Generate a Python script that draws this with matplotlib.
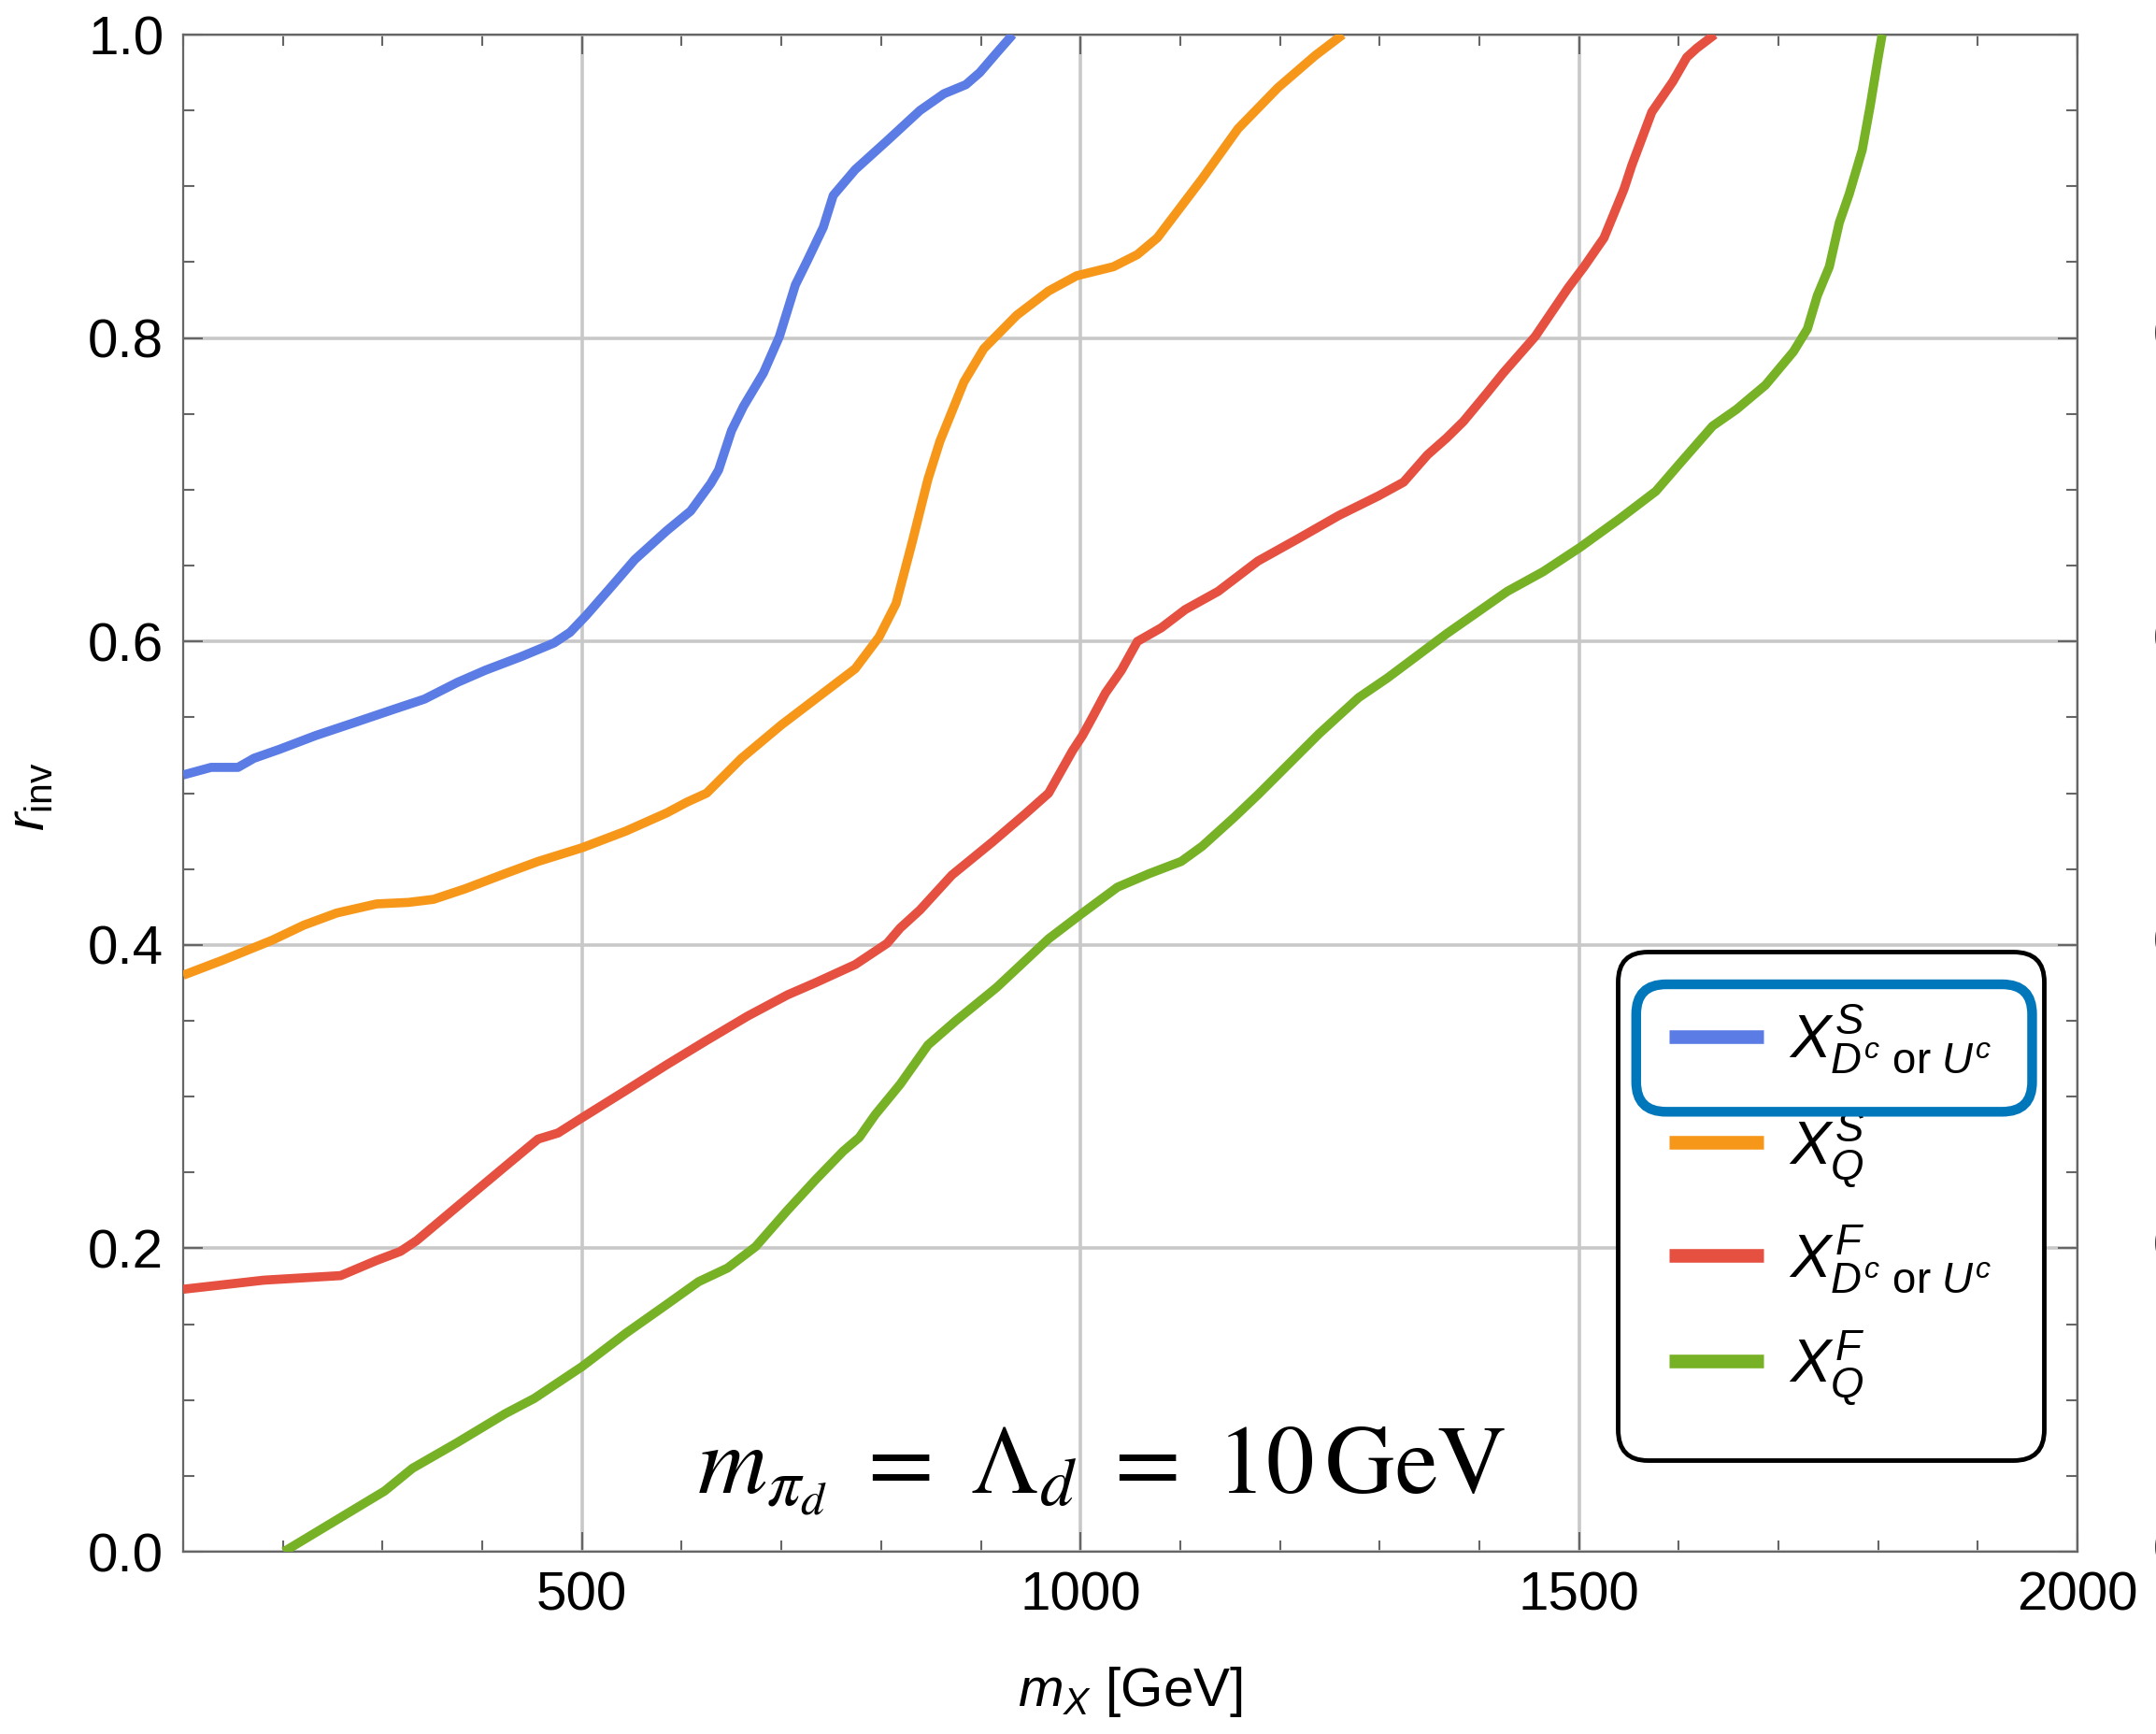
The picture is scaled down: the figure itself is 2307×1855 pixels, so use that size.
import matplotlib
matplotlib.use("Agg")
import matplotlib.pyplot as plt
from matplotlib.patches import FancyBboxPatch
from matplotlib.ticker import MultipleLocator, FixedLocator
from matplotlib import transforms

plt.rcParams['font.family'] = ['Liberation Sans', 'DejaVu Sans']
plt.rcParams['mathtext.fontset'] = 'custom'
plt.rcParams['mathtext.rm'] = 'Liberation Sans'
plt.rcParams['mathtext.it'] = 'Liberation Sans:italic'
plt.rcParams['mathtext.bf'] = 'Liberation Sans:bold'

# curves: m_X [GeV] vs r_inv
blue_x = [100, 128, 155, 171, 197, 233, 274, 310, 342, 375, 403, 439, 472, 488, 504, 528, 553,
          585, 609, 629, 637, 650, 662, 682, 698, 714, 726, 742, 752, 774, 806, 839, 863, 885,
          899, 916, 932]
blue_y = [0.512, 0.517, 0.517, 0.523, 0.529, 0.538, 0.547, 0.555, 0.562, 0.573, 0.581, 0.590,
          0.599, 0.606, 0.617, 0.635, 0.654, 0.673, 0.686, 0.704, 0.713, 0.739, 0.755, 0.777,
          0.801, 0.835, 0.851, 0.873, 0.894, 0.911, 0.930, 0.950, 0.961, 0.967, 0.975, 0.988, 1.0]

orange_x = [100, 140, 189, 221, 254, 294, 326, 351, 383, 423, 456, 500, 544, 585, 605, 625, 660,
            700, 734, 774, 798, 815, 831, 847, 859, 883, 903, 936, 968, 996, 1033, 1057, 1077,
            1122, 1158, 1198, 1235, 1263]
orange_y = [0.380, 0.390, 0.403, 0.413, 0.421, 0.427, 0.428, 0.430, 0.437, 0.447, 0.455, 0.464,
            0.475, 0.487, 0.494, 0.500, 0.523, 0.545, 0.562, 0.582, 0.603, 0.625, 0.665, 0.707,
            0.732, 0.771, 0.793, 0.815, 0.831, 0.841, 0.847, 0.855, 0.866, 0.905, 0.938, 0.965,
            0.986, 1.0]

red_x = [100, 181, 258, 294, 318, 334, 383, 423, 456, 476, 500, 544, 585, 625, 666, 706, 734, 774,
         806, 819, 839, 871, 912, 944, 968, 992, 1002, 1012, 1025, 1041, 1057, 1081, 1105, 1138,
         1178, 1219, 1259, 1299, 1324, 1348, 1367, 1384, 1408, 1424, 1456, 1489, 1505, 1525, 1545,
         1553, 1573, 1594, 1608, 1618, 1636]
red_y = [0.173, 0.179, 0.182, 0.192, 0.198, 0.205, 0.232, 0.254, 0.272, 0.276, 0.286, 0.304,
         0.321, 0.337, 0.353, 0.367, 0.375, 0.387, 0.401, 0.411, 0.423, 0.446, 0.468, 0.486, 0.500,
         0.528, 0.538, 0.550, 0.566, 0.581, 0.600, 0.609, 0.621, 0.633, 0.653, 0.668, 0.683, 0.696,
         0.705, 0.723, 0.734, 0.745, 0.764, 0.777, 0.801, 0.833, 0.847, 0.866, 0.898, 0.914, 0.949,
         0.969, 0.985, 0.991, 1.0]

green_x = [201, 254, 302, 330, 375, 423, 452, 500, 544, 585, 617, 646, 674, 706, 734, 762, 778,
           794, 819, 847, 875, 916, 968, 1000, 1037, 1069, 1101, 1122, 1154, 1178, 1239, 1279,
           1308, 1367, 1428, 1464, 1501, 1541, 1577, 1602, 1634, 1658, 1687, 1715, 1729, 1739,
           1751, 1761, 1771, 1784, 1792, 1800, 1804]
green_y = [0.0, 0.021, 0.040, 0.055, 0.072, 0.091, 0.101, 0.122, 0.144, 0.163, 0.178, 0.187,
           0.201, 0.225, 0.245, 0.264, 0.273, 0.288, 0.308, 0.334, 0.350, 0.372, 0.404, 0.420,
           0.438, 0.447, 0.455, 0.465, 0.484, 0.499, 0.539, 0.563, 0.576, 0.605, 0.633, 0.646,
           0.662, 0.681, 0.699, 0.718, 0.742, 0.753, 0.769, 0.791, 0.806, 0.828, 0.847, 0.876,
           0.895, 0.924, 0.953, 0.985, 1.0]

labels = [r'$X^{S}_{D^c\ \mathrm{or}\ U^c}$', r'$X^{S}_{Q}$',
          r'$X^{F}_{D^c\ \mathrm{or}\ U^c}$', r'$X^{F}_{Q}$']
colors = ['#5b7be5', '#f7971a', '#e55040', '#76b126']

x_major = [500, 1000, 1500, 2000]
y_major = [0.0, 0.2, 0.4, 0.6, 0.8, 1.0]
# tick labels of the neighbouring panel, cut by the right edge
next_panel_ticks = [0.0, 0.2, 0.4, 0.6, 0.8]

fig = plt.figure(figsize=(23.07, 18.55), dpi=100)
ax = fig.add_axes([0.08496, 0.10512, 0.87867, 0.87493])

series = [(blue_x, blue_y), (orange_x, orange_y), (red_x, red_y), (green_x, green_y)]
for (xs, ys), c, lab in zip(series, colors, labels):
    ax.plot(xs, ys, color=c, lw=7, label=lab, solid_joinstyle='round',
            solid_capstyle='butt', zorder=3)

ax.set_xlim(100, 2000)
ax.set_ylim(0, 1)
ax.xaxis.set_major_locator(FixedLocator(x_major))
ax.xaxis.set_minor_locator(MultipleLocator(100))
ax.yaxis.set_major_locator(FixedLocator(y_major))
ax.yaxis.set_minor_locator(MultipleLocator(0.05))
ax.set_xticklabels([str(v) for v in x_major])
ax.set_yticklabels(['%.1f' % v for v in y_major])

ax.grid(which='major', color='#c8c8c8', lw=2.6, zorder=1)
ax.set_axisbelow(True)
for sp in ax.spines.values():
    sp.set_color('#666666')
    sp.set_linewidth(1.6)
ax.tick_params(which='both', direction='in', top=True, right=True, color='#666666',
               labelsize=42, pad=15)
ax.tick_params(which='major', length=15, width=1.5)
ax.tick_params(which='minor', length=8.5, width=1.5)

ax.set_xlabel(r'$m_X$ [GeV]', fontsize=42)
ax.xaxis.set_label_coords(0.5, -0.0925)
ax.xaxis.label.set_va('center')
ax.set_ylabel(r'$r_{\mathrm{inv}}$', fontsize=42)
ax.yaxis.set_label_coords(-0.081, 0.4975)
ax.yaxis.label.set_va('center')

ax.text(1021, 0.053, r'$m_{\pi_d}\ =\ \Lambda_d\ =\ 10\,\mathrm{GeV}$', fontsize=74,
        math_fontfamily='stix', ha='center', va='center', zorder=4)

leg = ax.legend(loc='lower right', bbox_to_anchor=(0.982, 0.0604), borderaxespad=0,
                fontsize=47, handlelength=1.55, handletextpad=0.4, labelspacing=0.55,
                borderpad=0.85, fancybox=True, framealpha=1)
leg.get_frame().set_edgecolor('black')
leg.get_frame().set_linewidth(3.5)
leg.get_frame().set_boxstyle('round,pad=0,rounding_size=0.5')
for ln in leg.get_lines():
    ln.set_linewidth(10.5)
    ln.set_solid_capstyle('butt')

# highlight box around the first legend entry
(x0, y0), (x1, y1) = ax.transAxes.transform([(0.767, 0.290), (0.976, 0.374)])
hl = FancyBboxPatch((x0, y0), x1 - x0, y1 - y0, boxstyle='round,pad=0,rounding_size=32',
                    transform=transforms.IdentityTransform(), fill=False,
                    edgecolor='#0077bb', lw=7.5, zorder=7, clip_on=False)
ax.add_artist(hl)

edge = transforms.blended_transform_factory(fig.transFigure, ax.transData)
for v in next_panel_ticks:
    fig.text(0.9985, v, '%.1f' % v, transform=edge, fontsize=42, ha='left', va='center')

fig.savefig('out.png', dpi=100)
